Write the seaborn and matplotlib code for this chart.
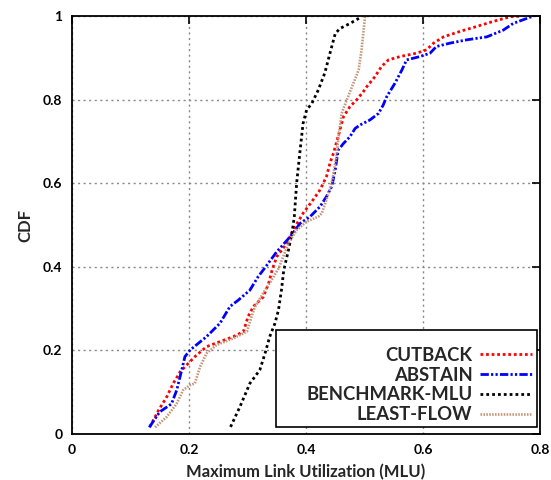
import matplotlib
matplotlib.use("Agg")
import matplotlib.pyplot as plt
import seaborn as sns
import pandas as pd
from matplotlib.patches import Rectangle

# ---------- data ----------
cutback_x = [0.133, 0.148, 0.162, 0.173, 0.185, 0.196, 0.210, 0.230, 0.253, 0.276,
             0.293, 0.301, 0.310, 0.327, 0.336, 0.342, 0.350, 0.367, 0.378, 0.395,
             0.412, 0.424, 0.435, 0.441, 0.447, 0.458, 0.464, 0.475, 0.487, 0.498,
             0.504, 0.518, 0.529, 0.541, 0.561, 0.589, 0.606, 0.618, 0.635, 0.663,
             0.692, 0.720, 0.749, 0.769]
cutback_y = [0.017, 0.057, 0.089, 0.121, 0.149, 0.165, 0.185, 0.209, 0.221, 0.233,
             0.245, 0.281, 0.305, 0.328, 0.360, 0.392, 0.424, 0.456, 0.488, 0.528,
             0.560, 0.584, 0.616, 0.648, 0.672, 0.727, 0.759, 0.783, 0.800, 0.819,
             0.831, 0.855, 0.879, 0.895, 0.903, 0.911, 0.919, 0.935, 0.950, 0.963,
             0.975, 0.987, 0.998, 1.000]

abstain_x = [0.132, 0.150, 0.170, 0.179, 0.1875, 0.193, 0.202, 0.230, 0.253, 0.270,
             0.284, 0.304, 0.318, 0.331, 0.350, 0.373, 0.390, 0.407, 0.424, 0.435,
             0.444, 0.450, 0.455, 0.464, 0.475, 0.484, 0.492, 0.509, 0.524, 0.532,
             0.538, 0.552, 0.564, 0.572, 0.595, 0.612, 0.623, 0.646, 0.675, 0.709,
             0.737, 0.754, 0.777, 0.789]
abstain_y = [0.016, 0.053, 0.072, 0.105, 0.153, 0.185, 0.201, 0.233, 0.265, 0.305,
             0.320, 0.344, 0.376, 0.400, 0.436, 0.472, 0.504, 0.520, 0.544, 0.568,
             0.592, 0.632, 0.679, 0.695, 0.711, 0.731, 0.739, 0.751, 0.767, 0.787,
             0.807, 0.839, 0.871, 0.895, 0.903, 0.911, 0.927, 0.935, 0.943, 0.950,
             0.966, 0.982, 0.994, 1.000]

bench_x = [0.271, 0.287, 0.304, 0.321, 0.330, 0.338, 0.347, 0.353, 0.358, 0.362,
           0.370, 0.376, 0.380, 0.384, 0.390, 0.395, 0.401, 0.410, 0.421, 0.432,
           0.441, 0.450, 0.458, 0.475, 0.495]
bench_y = [0.017, 0.065, 0.121, 0.153, 0.193, 0.233, 0.265, 0.297, 0.344, 0.392,
           0.440, 0.480, 0.520, 0.600, 0.680, 0.743, 0.775, 0.791, 0.823, 0.863,
           0.911, 0.958, 0.970, 0.982, 0.998]

least_x = [0.142, 0.162, 0.179, 0.190, 0.202, 0.210, 0.219, 0.230, 0.247, 0.276,
           0.299, 0.307, 0.313, 0.330, 0.341, 0.353, 0.361, 0.370, 0.384, 0.401,
           0.421, 0.427, 0.435, 0.444, 0.452, 0.455, 0.461, 0.470, 0.481, 0.490,
           0.495, 0.501]
least_y = [0.016, 0.041, 0.073, 0.105, 0.117, 0.121, 0.161, 0.193, 0.213, 0.229,
           0.245, 0.281, 0.305, 0.344, 0.368, 0.396, 0.424, 0.456, 0.488, 0.508,
           0.520, 0.528, 0.560, 0.600, 0.663, 0.703, 0.767, 0.800, 0.839, 0.871,
           0.919, 1.000]

x_ticks = [0, 0.2, 0.4, 0.6, 0.8]
x_tick_labels = ["0", "0.2", "0.4", "0.6", "0.8"]
y_ticks = [0, 0.2, 0.4, 0.6, 0.8, 1.0]
y_tick_labels = ["0", "0.2", "0.4", "0.6", "0.8", "1"]

series = [
    ("CUTBACK", cutback_x, cutback_y, "#ff0000", (0, (1, 1)), 2.0),
    ("ABSTAIN", abstain_x, abstain_y, "#0000ff", (0, (3, 0.8, 0.8, 0.8, 0.8, 0.8)), 2.0),
    ("BENCHMARK-MLU", bench_x, bench_y, "#000000", (0, (1, 1.1)), 2.0),
    ("LEAST-FLOW", least_x, least_y, "#c4967a", (0, (0.6, 0.5)), 1.9),
]

# ---------- plot ----------
sns.set_style("white")
plt.rcParams["font.family"] = ["Lato", "DejaVu Sans"]

fig = plt.figure(figsize=(5.51, 4.8), dpi=100)
ax = fig.add_axes([0.1307, 0.0958, 0.8493, 0.8709])

for name, xs, ys, color, ls, lw in series:
    df = pd.DataFrame({"x": xs, "y": ys})
    sns.lineplot(data=df, x="x", y="y", ax=ax, sort=False, estimator=None,
                 color=color, linestyle=ls, linewidth=lw, label=name)

ax.set_xlim(0, 0.8)
ax.set_ylim(0, 1)
ax.set_xticks(x_ticks)
ax.set_xticklabels(x_tick_labels, fontweight="bold", fontsize=10)
ax.set_yticks(y_ticks)
ax.set_yticklabels(y_tick_labels, fontweight="bold", fontsize=10)
ax.tick_params(direction="in", length=5.5, width=1.2, top=True, right=True,
               pad=7, colors="black")
ax.grid(True, color="#888888", linestyle=(0, (1.5, 2.5)), linewidth=1)
for sp in ax.spines.values():
    sp.set_linewidth(1.3)
    sp.set_color("black")

ax.set_xlabel("Maximum Link Utilization (MLU)", fontsize=12, fontweight="bold",
              labelpad=6)
ax.set_ylabel("CDF", fontsize=12, fontweight="bold", labelpad=7)

# legend box drawn like gnuplot's key
ax.add_patch(Rectangle((0.436, 0.017), 0.558, 0.232, transform=ax.transAxes,
                       facecolor="white", edgecolor="black", linewidth=1.2,
                       zorder=5))
leg = ax.legend(loc="lower right", bbox_to_anchor=(0.982, 0.026),
                frameon=False, markerfirst=False,
                prop={"family": ["Lato", "DejaVu Sans"], "size": 13.3, "weight": "bold"},
                handlelength=2.8, handletextpad=0.4, labelspacing=0.15,
                borderaxespad=0, borderpad=0)
leg.set_zorder(6)

fig.savefig("out.png", dpi=100)
